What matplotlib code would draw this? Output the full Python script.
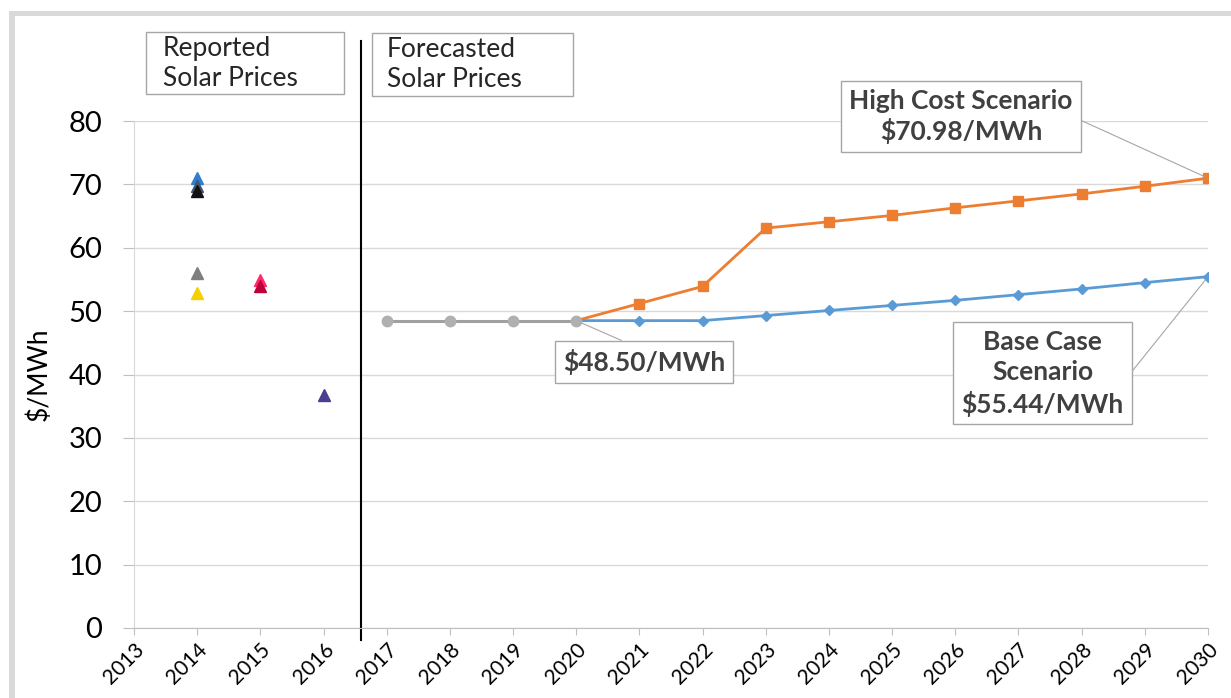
import numpy as np
import matplotlib
matplotlib.use("Agg")
import matplotlib.pyplot as plt
from matplotlib.patches import Rectangle

plt.rcParams['font.family'] = ['Lato', 'DejaVu Sans']

# reported prices (scatter points, one colour each)
rep_years = [2014, 2014, 2014, 2014, 2014, 2015, 2015, 2016]
rep_vals = [71.0, 69.8, 68.9, 56.0, 52.8, 54.9, 54.0, 36.8]
rep_cols = ['#2e7fd0', '#44546a', '#111111', '#7f7f7f', '#f5d000',
            '#ff2a6d', '#c0003c', '#4a3f8e']

# forecast lines
flat_years = [2017, 2018, 2019, 2020]
flat_vals = [48.5, 48.5, 48.5, 48.5]
fc_years = list(range(2020, 2031))
base_vals = [48.5, 48.5, 48.5, 49.3, 50.1, 50.9, 51.7, 52.6, 53.5, 54.5, 55.44]
high_vals = [48.5, 51.2, 53.9, 63.1, 64.1, 65.1, 66.3, 67.4, 68.5, 69.7, 70.98]

years = list(range(2013, 2031))

fig = plt.figure(figsize=(12.31, 6.98), dpi=100)
fig.patch.set_facecolor('white')

# outer light grey frame
fig.add_artist(Rectangle((9/1231, 0), 6/1231, 1 - 11/698, transform=fig.transFigure,
                         color='#d9d9d9', lw=0))
fig.add_artist(Rectangle((9/1231, 1 - 16/698), 1, 5/698, transform=fig.transFigure,
                         color='#d9d9d9', lw=0))

ax = fig.add_axes([134/1231, 1 - 628/698, (1208-134)/1231, (628-121)/698])
ax.set_xlim(2013, 2030)
ax.set_ylim(0, 80)
ax.set_yticks(range(0, 81, 10))
ax.set_xticks(years)
ax.set_xticklabels([str(y) for y in years], rotation=45, fontsize=15,
                   ha='right', va='top', rotation_mode='anchor')
ax.tick_params(axis='y', labelsize=21, length=8, color='#bfbfbf', pad=15)
ax.tick_params(axis='x', length=5, color='#bfbfbf', pad=3)
ax.grid(axis='y', color='#d9d9d9', lw=1)
ax.set_axisbelow(True)
for s in ['top', 'right']:
    ax.spines[s].set_visible(False)
ax.spines['left'].set_color('#d9d9d9')
ax.spines['bottom'].set_color('#bfbfbf')
ax.set_ylabel('$/MWh', fontsize=19, labelpad=12)

for x, y, c in zip(rep_years, rep_vals, rep_cols):
    ax.plot(x, y, marker='^', color=c, markersize=8, ls='none', zorder=3)

ax.plot(fc_years, high_vals, color='#ed7d31', lw=2, marker='s', markersize=7.5,
        markevery=slice(1, None), zorder=3)
ax.plot(fc_years, base_vals, color='#5b9bd5', lw=2, marker='D', markersize=5.5,
        markevery=slice(1, None), zorder=3)
ax.plot(flat_years, flat_vals, color='#a0a0a0', lw=2.2, marker='o', markersize=7.5,
        markerfacecolor='#b0b0b0', markeredgecolor='#b0b0b0', zorder=4)

# divider between reported and forecast
ax.axvline(2016.6, ymin=-0.024, ymax=1.158, color='black', lw=1.5, clip_on=False)

# header boxes
for x0, x1, y0, y1, tx, label in [
        (2013.19, 2016.33, 84.26, 94.04, 2013.46, 'Reported\nSolar Prices'),
        (2016.765, 2019.95, 83.9, 93.9, 2017.0, 'Forecasted\nSolar Prices')]:
    ax.add_patch(Rectangle((x0, y0), x1 - x0, y1 - y0, fill=False, ec='#a6a6a6',
                           lw=1, clip_on=False))
    ax.text(tx, (y0 + y1) / 2, label, ha='left', va='center', fontsize=19,
            color='#262626', linespacing=1.25, clip_on=False)

box = dict(boxstyle='square,pad=0.3', fc='white', ec='#a6a6a6', lw=1)
line = dict(arrowstyle='-', color='#a6a6a6', lw=0.8, shrinkA=0, shrinkB=3)

ax.annotate('High Cost Scenario\n$70.98/MWh', xy=(fc_years[-1], high_vals[-1]),
            xytext=(2026.09, 80.7), ha='center', va='center', fontsize=19,
            fontweight='bold', color='#404040', bbox=box, linespacing=1.2,
            arrowprops=dict(line, relpos=(1, 0.5)), annotation_clip=False)
ax.annotate('Base Case\nScenario\n$55.44/MWh', xy=(fc_years[-1], base_vals[-1]),
            xytext=(2027.38, 40.2), ha='center', va='center', fontsize=19,
            fontweight='bold', color='#404040', bbox=box, linespacing=1.3,
            arrowprops=dict(line, relpos=(1, 0.4)), annotation_clip=False)
ax.annotate('$48.50/MWh', xy=(flat_years[-1], flat_vals[-1]),
            xytext=(2021.07, 42.0), ha='center', va='center', fontsize=19,
            fontweight='bold', color='#404040', bbox=box,
            arrowprops=dict(line, relpos=(0.48, 1)), annotation_clip=False)

fig.savefig('out.png', dpi=100)
